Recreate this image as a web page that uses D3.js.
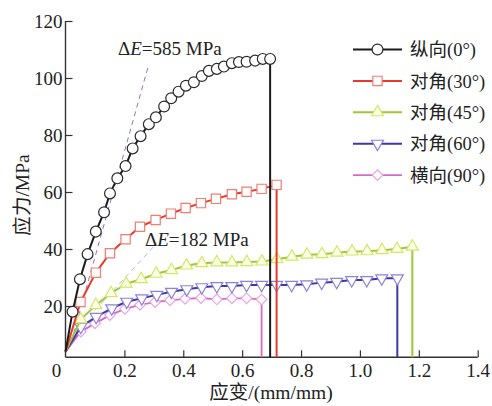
<!DOCTYPE html>
<html>
<head>
<meta charset="utf-8">
<script src="https://cdn.jsdelivr.net/npm/d3@7"></script>
<style>
  html, body { margin: 0; padding: 0; background: #fff; }
  svg { display: block; }
  text { font-family: 'Liberation Serif', 'Noto Sans CJK SC', serif; fill: #222; }
</style>
</head>
<body>
<div id="chart"></div>
<script>
/* global d3 */

// ----------------------------------------
// Data
// ----------------------------------------

let originStress = 4
let axisBase = 2

let strain0 = [0.024, 0.049, 0.075, 0.103, 0.131, 0.151, 0.176, 0.204, 0.228, 0.255, 0.283, 0.307, 0.335, 0.359,
  0.384, 0.409, 0.436, 0.463, 0.487, 0.514, 0.538, 0.565, 0.589, 0.615, 0.644, 0.670, 0.695]
let stress0 = [18.0, 29.4, 38.2, 46.1, 52.9, 59.5, 64.8, 69.1, 75.3, 79.6, 83.8, 86.2, 90.0, 92.9,
  95.2, 97.3, 98.5, 100.7, 102.5, 103.2, 104.0, 105.2, 105.6, 105.7, 106.1, 106.7, 106.7]

let strain30 = [0.051, 0.103, 0.151, 0.204, 0.253, 0.306, 0.358, 0.408, 0.460, 0.511, 0.565, 0.615, 0.666, 0.717]
let stress30 = [21.4, 31.7, 38.5, 43.4, 47.8, 50.2, 52.4, 54.4, 56.1, 57.6, 59.2, 60.1, 61.1, 62.5]

let strain45 = [0.052, 0.103, 0.155, 0.206, 0.257, 0.308, 0.360, 0.411, 0.463, 0.514, 0.565, 0.616, 0.667,
  0.718, 0.769, 0.820, 0.871, 0.922, 0.973, 1.024, 1.075, 1.126, 1.178]
let stress45 = [15.3, 20.3, 24.5, 27.8, 29.4, 31.3, 32.6, 34.2, 35.0, 35.3, 35.3, 35.4, 35.6,
  36.4, 37.3, 38.0, 38.2, 38.7, 39.1, 39.2, 39.6, 40.0, 40.8]

let strain60 = [0.052, 0.104, 0.157, 0.208, 0.259, 0.310, 0.360, 0.412, 0.463, 0.514, 0.565, 0.615, 0.666,
  0.717, 0.768, 0.819, 0.870, 0.921, 0.972, 1.023, 1.074, 1.127]
let stress60 = [12.7, 16.2, 19.2, 21.5, 22.7, 23.9, 25.0, 25.9, 26.6, 27.0, 27.0, 27.4, 27.4,
  27.4, 27.4, 27.6, 28.2, 28.5, 29.1, 29.1, 29.7, 29.7]

let strain90 = [0.052, 0.100, 0.151, 0.202, 0.253, 0.304, 0.355, 0.406, 0.460, 0.514, 0.565, 0.615, 0.666]
let stress90 = [11.0, 13.9, 16.8, 19.0, 20.4, 21.4, 22.0, 22.5, 22.8, 22.3, 22.7, 22.7, 22.3]

// modulus guide lines
let e585Strain = [0.02, 0.282]
let e585Stress = [7.5, 104.5]
let e182Strain = [0.10, 0.31]
let e182Stress = [18.5, 42]

let xTicks = [0.2, 0.4, 0.6, 0.8, 1.0, 1.2, 1.4]
let yTicks = [20, 40, 60, 80, 100, 120]

let legendLabels = ['纵向(0°)', '对角(30°)', '对角(45°)', '对角(60°)', '横向(90°)']

// ----------------------------------------
// Styles
// ----------------------------------------

let series = [
  { strain: strain0, stress: stress0, line: '#1b1b1b', mark: '#2a2a2a', fill: '#fff', symbol: 'circle', width: 2 },
  { strain: strain30, stress: stress30, line: '#e8392c', mark: '#f27d72', fill: '#fff', symbol: 'square', width: 2 },
  { strain: strain45, stress: stress45, line: '#9cc83a', mark: '#d4e866', fill: '#fcfde9', symbol: 'up', width: 2 },
  { strain: strain60, stress: stress60, line: '#3a3aa6', mark: '#8c82d8', fill: '#fff', symbol: 'down', width: 2 },
  { strain: strain90, stress: stress90, line: '#d66ac8', mark: '#eba4e6', fill: '#fff', symbol: 'diamond', width: 1.8 }
]

var width = 492
var height = 406
var axisC = '#333'

var svg = d3.select('#chart').append('svg')
  .attr('width', width)
  .attr('height', height)

var x = d3.scaleLinear().domain([0, 1.4]).range([65.5, 477.7])
var y = d3.scaleLinear().domain([0, 120]).range([363, 21])

// ----------------------------------------
// Axes
// ----------------------------------------

var gy = svg.append('g')
  .attr('transform', 'translate(' + x(0) + ',0)')
  .call(d3.axisLeft(y).tickValues(yTicks).tickSizeInner(-7).tickSizeOuter(0).tickPadding(3))
gy.select('.domain').remove()
gy.attr('color', axisC).attr('font-size', 19).attr('font-family', null)
gy.selectAll('line').attr('stroke-width', 1.2)

var gx = svg.append('g')
  .attr('transform', 'translate(0,' + y(axisBase) + ')')
  .call(d3.axisBottom(x).tickValues(xTicks).tickSizeInner(-7).tickSizeOuter(0).tickPadding(6)
    .tickFormat(d3.format('.1f')))
gx.select('.domain').remove()
gx.attr('color', axisC).attr('font-size', 19).attr('font-family', null)
gx.selectAll('line').attr('stroke-width', 1.2)

svg.append('line')
  .attr('x1', x(0)).attr('x2', x(0))
  .attr('y1', y(120)).attr('y2', y(axisBase))
  .attr('stroke', axisC).attr('stroke-width', 1.4)

svg.append('line')
  .attr('x1', x(0)).attr('x2', x(1.4))
  .attr('y1', y(axisBase)).attr('y2', y(axisBase))
  .attr('stroke', axisC).attr('stroke-width', 1.4)

// shared origin label
svg.append('text')
  .attr('x', x(0) - 9)
  .attr('y', y(axisBase) + 6)
  .attr('dy', '0.71em')
  .attr('font-size', 19)
  .style('text-anchor', 'middle')
  .text('0')

svg.append('text')
  .attr('transform', 'translate(22,195) rotate(-90)')
  .attr('dy', '0.35em')
  .attr('font-size', 19.5)
  .style('text-anchor', 'middle')
  .text('应力/MPa')

svg.append('text')
  .attr('x', 271)
  .attr('y', 399)
  .attr('font-size', 19.5)
  .style('text-anchor', 'middle')
  .text('应变/(mm/mm)')

// ----------------------------------------
// Modulus guide lines
// ----------------------------------------

var line = d3.line()
  .x(d => x(d[0]))
  .y(d => y(d[1]))

svg.append('path')
  .attr('d', line(d3.zip(e585Strain, e585Stress)))
  .attr('fill', 'none')
  .attr('stroke', '#9b6fc4')
  .attr('stroke-width', 1)
  .attr('stroke-dasharray', '5,4')

svg.append('path')
  .attr('d', line(d3.zip(e182Strain, e182Stress)))
  .attr('fill', 'none')
  .attr('stroke', '#a9bde9')
  .attr('stroke-width', 1)
  .attr('stroke-dasharray', '5,4')

// ----------------------------------------
// Curves
// ----------------------------------------

function symbolPath (kind) {
  if (kind === 'circle') return d3.symbol().type(d3.symbolCircle).size(92)()
  if (kind === 'square') return d3.symbol().type(d3.symbolSquare).size(86)()
  if (kind === 'diamond') return d3.symbol().type(d3.symbolSquare).size(56)()
  return d3.symbol().type(d3.symbolTriangle).size(62)()
}

function symbolRotate (kind) {
  if (kind === 'down') return ' rotate(180)'
  if (kind === 'diamond') return ' rotate(45)'
  return ''
}

series.slice().reverse().forEach(s => {
  var pts = d3.zip(s.strain, s.stress)
  var last = pts[pts.length - 1]
  var full = [[0, originStress]].concat(pts).concat([[last[0], axisBase]])

  var g = svg.append('g')

  g.append('path')
    .attr('d', line(full))
    .attr('fill', 'none')
    .attr('stroke', s.line)
    .attr('stroke-width', s.width)
    .attr('stroke-linejoin', 'round')

  g.selectAll('path.mark')
    .data(pts)
    .enter().append('path')
      .attr('class', 'mark')
      .attr('d', symbolPath(s.symbol))
      .attr('transform', d => 'translate(' + x(d[0]) + ',' + y(d[1]) + ')' + symbolRotate(s.symbol))
      .attr('fill', s.fill)
      .attr('stroke', s.mark)
      .attr('stroke-width', 1.2)
})

// ----------------------------------------
// Annotations
// ----------------------------------------

var note1 = svg.append('text').attr('x', 118).attr('y', 55).attr('font-size', 19)
note1.append('tspan').text('Δ')
note1.append('tspan').attr('font-style', 'italic').text('E')
note1.append('tspan').text('=585 MPa')

var note2 = svg.append('text').attr('x', 145).attr('y', 246).attr('font-size', 19)
note2.append('tspan').text('Δ')
note2.append('tspan').attr('font-style', 'italic').text('E')
note2.append('tspan').text('=182 MPa')

// ----------------------------------------
// Legend
// ----------------------------------------

var legend = svg.append('g').attr('class', 'legend')

series.forEach((s, i) => {
  var ly = 49.5 + i * 31.4
  var row = legend.append('g').attr('transform', 'translate(0,' + ly + ')')

  row.append('line')
    .attr('x1', 353).attr('x2', 402)
    .attr('stroke', s.line)
    .attr('stroke-width', s.width)

  row.append('path')
    .attr('d', symbolPath(s.symbol))
    .attr('transform', 'translate(377.5,0)' + symbolRotate(s.symbol))
    .attr('fill', s.fill)
    .attr('stroke', s.mark)
    .attr('stroke-width', 1.2)

  row.append('text')
    .attr('x', 410)
    .attr('dy', '0.36em')
    .attr('font-size', 18.5)
    .text(legendLabels[i])
})
</script>
</body>
</html>
